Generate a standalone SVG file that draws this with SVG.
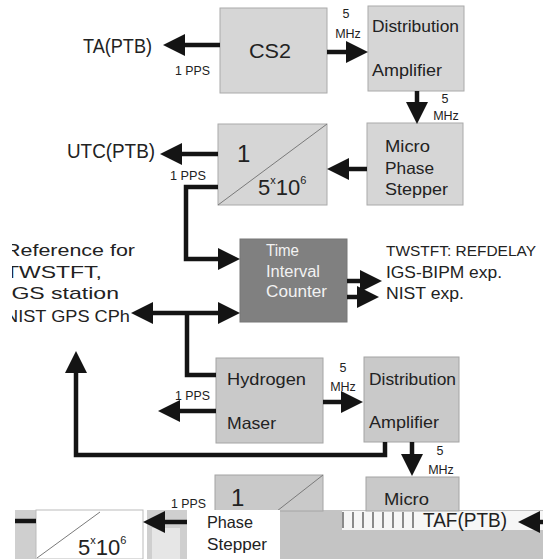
<svg xmlns="http://www.w3.org/2000/svg" width="543" height="559" viewBox="0 0 543 559">
<style>
  text { font-family: "Liberation Sans", Arial, sans-serif; fill: #222; }
  .box { fill: #d6d6d6; stroke: #aaaaaa; stroke-width: 1; }
  .box2 { fill: #c9c9c9; stroke: #a4a4a4; stroke-width: 1; }
  .tic { fill: #808080; stroke: #777; stroke-width: 1; }
  .lbl { font-size: 16.5px; }
  .big { font-size: 21px; }
  .sm { font-size: 13px; }
  .mhz { font-size: 12.5px; text-anchor: middle; }
  .side { font-size: 17px; }
  .ticT { font-size: 16px; fill: #f2f2f2; }
  .wire { fill: none; stroke: #141414; stroke-width: 4.5; stroke-linejoin: miter; }
  .arr { marker-end: url(#ah); }
  .diag { stroke: #7a7a7a; stroke-width: 1; }
</style>
<defs>
  <marker id="ah" viewBox="0 0 22 22" markerWidth="22" markerHeight="22" markerUnits="userSpaceOnUse" refX="1" refY="11" orient="auto">
    <path d="M0,0 L22,11 L0,22 z" fill="#141414"/>
  </marker>
  <marker id="ahs" viewBox="0 0 22 22" markerWidth="22" markerHeight="22" markerUnits="userSpaceOnUse" refX="1" refY="11" orient="auto-start-reverse">
    <path d="M0,0 L22,11 L0,22 z" fill="#141414"/>
  </marker>
  <clipPath id="leftclip"><rect x="12" y="0" width="200" height="559"/></clipPath>
</defs>
<rect width="543" height="559" fill="#ffffff"/>

<!-- nodes -->
<g id="cs2">
  <rect class="box" x="220" y="8" width="107" height="85"/>
  <text class="big" x="249" y="58" font-size="22" textLength="42" lengthAdjust="spacingAndGlyphs">CS2</text>
</g>
<g id="ta-ptb">
  <text class="big" x="83" y="53" textLength="69" lengthAdjust="spacingAndGlyphs">TA(PTB)</text>
</g>
<g id="dist-amp-1">
  <rect class="box" x="368" y="6" width="96" height="85"/>
  <text class="lbl" x="372" y="32" textLength="87" lengthAdjust="spacingAndGlyphs">Distribution</text>
  <text class="lbl" x="372" y="76" textLength="70" lengthAdjust="spacingAndGlyphs">Amplifier</text>
</g>
<g id="micro-phase-stepper-1">
  <rect class="box" x="367" y="123" width="96" height="82"/>
  <text class="lbl" x="385" y="152" textLength="45" lengthAdjust="spacingAndGlyphs">Micro</text>
  <text class="lbl" x="385" y="174" textLength="49" lengthAdjust="spacingAndGlyphs">Phase</text>
  <text class="lbl" x="385" y="195" textLength="63" lengthAdjust="spacingAndGlyphs">Stepper</text>
</g>
<g id="divider-1">
  <rect class="box" x="218" y="124" width="109" height="81"/>
  <line class="diag" x1="218" y1="205" x2="327" y2="124"/>
  <text x="237" y="162" font-size="24">1</text>
  <text x="258" y="195" font-size="22">5<tspan font-size="11" dy="-11">x</tspan><tspan dy="11">10</tspan><tspan font-size="11" dy="-11">6</tspan></text>
</g>
<g id="utc-ptb">
  <text class="big" x="67" y="158" textLength="88" lengthAdjust="spacingAndGlyphs">UTC(PTB)</text>
</g>
<g id="tic">
  <rect class="tic" x="240" y="239" width="107" height="83"/>
  <text class="ticT" x="266" y="256" textLength="33" lengthAdjust="spacingAndGlyphs">Time</text>
  <text class="ticT" x="266" y="277" textLength="54" lengthAdjust="spacingAndGlyphs">Interval</text>
  <text class="ticT" x="266" y="297" textLength="61" lengthAdjust="spacingAndGlyphs">Counter</text>
</g>
<g id="outputs">
  <text x="386" y="256" font-size="15" textLength="150" lengthAdjust="spacingAndGlyphs">TWSTFT: REFDELAY</text>
  <text class="side" x="386" y="278" textLength="116" lengthAdjust="spacingAndGlyphs">IGS-BIPM exp.</text>
  <text class="side" x="386" y="299" textLength="78" lengthAdjust="spacingAndGlyphs">NIST exp.</text>
</g>
<g id="references" clip-path="url(#leftclip)">
  <text class="side" x="5" y="256" textLength="130" lengthAdjust="spacingAndGlyphs">Reference for</text>
  <text class="side" x="5" y="278" textLength="97" lengthAdjust="spacingAndGlyphs">TWSTFT,</text>
  <text class="side" x="5" y="299" textLength="114" lengthAdjust="spacingAndGlyphs">IGS station</text>
  <text class="side" x="5" y="322" textLength="125" lengthAdjust="spacingAndGlyphs">NIST GPS CPh</text>
</g>
<g id="hydrogen-maser">
  <rect class="box2" x="216" y="358" width="107" height="85"/>
  <text class="lbl" x="227" y="385" textLength="79" lengthAdjust="spacingAndGlyphs">Hydrogen</text>
  <text class="lbl" x="227" y="429" textLength="49" lengthAdjust="spacingAndGlyphs">Maser</text>
</g>
<g id="dist-amp-2">
  <rect class="box2" x="364" y="357" width="95" height="85"/>
  <text class="lbl" x="369" y="385" textLength="87" lengthAdjust="spacingAndGlyphs">Distribution</text>
  <text class="lbl" x="369" y="428" textLength="70" lengthAdjust="spacingAndGlyphs">Amplifier</text>
</g>

<!-- bottom (partially rendered) area -->
<g id="bottom-row">
  <rect x="280" y="510" width="263" height="49" fill="#c4c4c4"/>
  <rect x="342" y="511" width="201" height="19" fill="#f6f6f6"/>
  <rect x="15" y="510" width="21" height="49" fill="#cfcfcf"/>
  <rect x="147" y="510" width="40" height="49" fill="#cfcfcf"/>
  <rect x="152" y="528" width="28" height="31" fill="#e6e6e6"/>
  <rect x="36" y="510" width="107" height="49" fill="#ffffff" stroke="#bbbbbb" stroke-width="1"/>
  <line class="diag" x1="37" y1="558" x2="100" y2="512"/>
  <text x="78" y="555" font-size="22">5<tspan font-size="11" dy="-11">x</tspan><tspan dy="11">10</tspan><tspan font-size="11" dy="-11">6</tspan></text>
  <g id="divider-2">
    <rect class="box2" x="215" y="475" width="108" height="36"/>
    <line class="diag" x1="277" y1="511" x2="323" y2="475"/>
    <text x="231" y="506" font-size="24">1</text>
  </g>
  <g id="micro-phase-stepper-2">
    <rect class="box2" x="366" y="477" width="93" height="34"/>
    <text class="lbl" x="384" y="505" textLength="45" lengthAdjust="spacingAndGlyphs">Micro</text>
  </g>
  <rect x="187" y="510" width="93" height="49" fill="#ffffff"/>
  <text class="lbl" x="207" y="528" textLength="46" lengthAdjust="spacingAndGlyphs">Phase</text>
  <text class="lbl" x="207" y="550" textLength="60" lengthAdjust="spacingAndGlyphs">Stepper</text>
  <g stroke="#444" stroke-width="1.2">
    <line x1="343" y1="512" x2="343" y2="528"/>
    <line x1="353" y1="512" x2="353" y2="528"/>
    <line x1="363" y1="512" x2="363" y2="528"/>
    <line x1="373" y1="512" x2="373" y2="528"/>
    <line x1="383" y1="512" x2="383" y2="528"/>
    <line x1="393" y1="512" x2="393" y2="528"/>
    <line x1="403" y1="512" x2="403" y2="528"/>
    <line x1="413" y1="512" x2="413" y2="528"/>
  </g>
  <text class="big" x="423" y="527" textLength="84" lengthAdjust="spacingAndGlyphs">TAF(PTB)</text>
  <text class="sm" x="171" y="508" textLength="35" lengthAdjust="spacingAndGlyphs">1 PPS</text>
</g>

<!-- connectors -->
<g id="connectors">
  <line class="wire arr" x1="220" y1="45" x2="184" y2="45"/>
  <line class="wire arr" x1="327" y1="52" x2="347" y2="52"/>
  <line class="wire arr" x1="417" y1="91" x2="417" y2="103"/>
  <line class="wire arr" x1="367" y1="169" x2="348" y2="169"/>
  <line class="wire arr" x1="218" y1="154" x2="181" y2="154"/>
  <polyline class="wire arr" points="218,187 186,187 186,259 219,259"/>
  <line class="wire arr" x1="347" y1="281" x2="361" y2="281"/>
  <line class="wire arr" x1="347" y1="297" x2="358" y2="297"/>
  <line class="wire" x1="152" y1="313" x2="219" y2="313" marker-start="url(#ahs)" marker-end="url(#ah)"/>
  <polyline class="wire" points="187,313 187,375 216,375"/>
  <line class="wire arr" x1="216" y1="411" x2="179" y2="411"/>
  <line class="wire arr" x1="323" y1="402" x2="342" y2="402"/>
  <polyline class="wire arr" points="385,442 385,455 76,455 76,372"/>
  <line class="wire arr" x1="412" y1="442" x2="412" y2="455"/>
  <line class="wire arr" x1="187" y1="522" x2="164" y2="522"/>
  <line class="wire" x1="15" y1="521" x2="36" y2="521" stroke-width="3"/>
  <line class="wire arr" x1="545" y1="522" x2="539" y2="522"/>
</g>

<!-- connector labels -->
<g id="connector-labels">
  <text class="sm" x="175" y="75" textLength="35" lengthAdjust="spacingAndGlyphs">1 PPS</text>
  <text class="mhz" x="346" y="18" font-size="13">5</text>
  <text class="mhz" x="348" y="38">MHz</text>
  <text class="mhz" x="445" y="103" font-size="13">5</text>
  <text class="mhz" x="446" y="120">MHz</text>
  <text class="sm" x="170" y="180" textLength="36" lengthAdjust="spacingAndGlyphs">1 PPS</text>
  <text class="sm" x="175" y="400" textLength="35" lengthAdjust="spacingAndGlyphs">1 PPS</text>
  <text class="mhz" x="343" y="372" font-size="13">5</text>
  <text class="mhz" x="343" y="391">MHz</text>
  <text class="mhz" x="440" y="455" font-size="13">5</text>
  <text class="mhz" x="441" y="474">MHz</text>
</g>
</svg>
